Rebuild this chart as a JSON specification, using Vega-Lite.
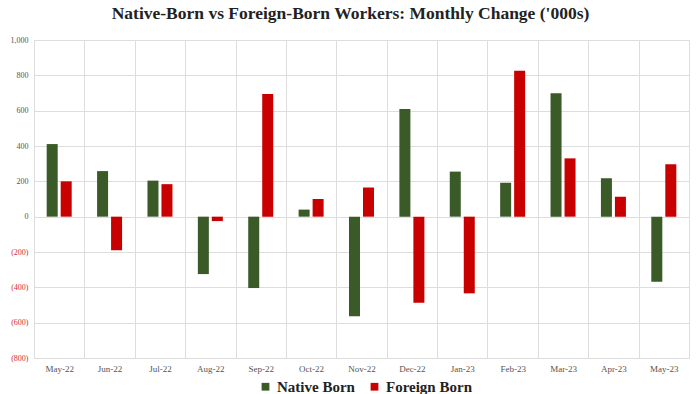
{
  "$schema": "https://vega.github.io/schema/vega-lite/v6.json",
  "width": 655,
  "height": 318,
  "autosize": {"type": "none"},
  "padding": {"left": 34, "top": 40, "right": 11, "bottom": 36},
  "background": "white",
  "title": {
    "text": "Native-Born vs Foreign-Born Workers: Monthly Change ('000s)",
    "font": "Liberation Serif",
    "fontSize": 17.5,
    "fontWeight": "bold",
    "color": "#222222",
    "anchor": "middle",
    "dx": -11,
    "offset": 14
  },
  "data": {
    "values": [
      {"month": "May-22", "series": "Native Born", "value": 411},
      {"month": "May-22", "series": "Foreign Born", "value": 200},
      {"month": "Jun-22", "series": "Native Born", "value": 258},
      {"month": "Jun-22", "series": "Foreign Born", "value": -190},
      {"month": "Jul-22", "series": "Native Born", "value": 204},
      {"month": "Jul-22", "series": "Foreign Born", "value": 184},
      {"month": "Aug-22", "series": "Native Born", "value": -325},
      {"month": "Aug-22", "series": "Foreign Born", "value": -25},
      {"month": "Sep-22", "series": "Native Born", "value": -404},
      {"month": "Sep-22", "series": "Foreign Born", "value": 694},
      {"month": "Oct-22", "series": "Native Born", "value": 40},
      {"month": "Oct-22", "series": "Foreign Born", "value": 100},
      {"month": "Nov-22", "series": "Native Born", "value": -564},
      {"month": "Nov-22", "series": "Foreign Born", "value": 165},
      {"month": "Dec-22", "series": "Native Born", "value": 609},
      {"month": "Dec-22", "series": "Foreign Born", "value": -487},
      {"month": "Jan-23", "series": "Native Born", "value": 255},
      {"month": "Jan-23", "series": "Foreign Born", "value": -434},
      {"month": "Feb-23", "series": "Native Born", "value": 192},
      {"month": "Feb-23", "series": "Foreign Born", "value": 826},
      {"month": "Mar-23", "series": "Native Born", "value": 698},
      {"month": "Mar-23", "series": "Foreign Born", "value": 330},
      {"month": "Apr-23", "series": "Native Born", "value": 217},
      {"month": "Apr-23", "series": "Foreign Born", "value": 113},
      {"month": "May-23", "series": "Native Born", "value": -368},
      {"month": "May-23", "series": "Foreign Born", "value": 296}
    ]
  },
  "mark": {"type": "bar"},
  "encoding": {
    "x": {
      "field": "month",
      "type": "ordinal",
      "sort": null,
      "scale": {"paddingInner": 0, "paddingOuter": 0},
      "axis": {
        "title": null,
        "tickBand": "extent",
        "grid": true,
        "gridColor": "#dddddd",
        "gridWidth": 1,
        "ticks": false,
        "domain": false,
        "labelAngle": 0,
        "labelFont": "Liberation Serif",
        "labelFontSize": 9,
        "labelColor": "#555555",
        "labelPadding": 6
      }
    },
    "xOffset": {
      "field": "series",
      "type": "nominal",
      "sort": ["Native Born", "Foreign Born"],
      "scale": {"paddingInner": 0.214, "paddingOuter": 0.907}
    },
    "y": {
      "field": "value",
      "type": "quantitative",
      "scale": {"domain": [-800, 1000], "nice": false, "zero": false},
      "axis": {
        "title": null,
        "values": [-800, -600, -400, -200, 0, 200, 400, 600, 800, 1000],
        "grid": true,
        "gridColor": "#dddddd",
        "ticks": false,
        "domain": false,
        "labelFont": "Liberation Serif",
        "labelFontSize": 8,
        "labelColor": {"expr": "datum.value < 0 ? '#d03030' : '#555555'"},
        "labelExpr": "datum.value < 0 ? '(' + format(-datum.value, ',') + ')' : format(datum.value, ',')",
        "labelPadding": 6
      }
    },
    "color": {
      "field": "series",
      "type": "nominal",
      "sort": ["Native Born", "Foreign Born"],
      "scale": {"domain": ["Native Born", "Foreign Born"], "range": ["#3a5a27", "#c80000"]},
      "legend": {
        "title": null,
        "orient": "none",
        "legendX": 224,
        "legendY": 339,
        "direction": "horizontal",
        "symbolType": "square",
        "symbolSize": 60,
        "symbolStrokeWidth": 0,
        "labelFont": "Liberation Serif",
        "labelFontSize": 15,
        "labelFontWeight": "bold",
        "labelColor": "#222222",
        "labelOffset": 4,
        "columnPadding": 12
      }
    }
  },
  "config": {
    "view": {"stroke": "#dddddd"}
  }
}
